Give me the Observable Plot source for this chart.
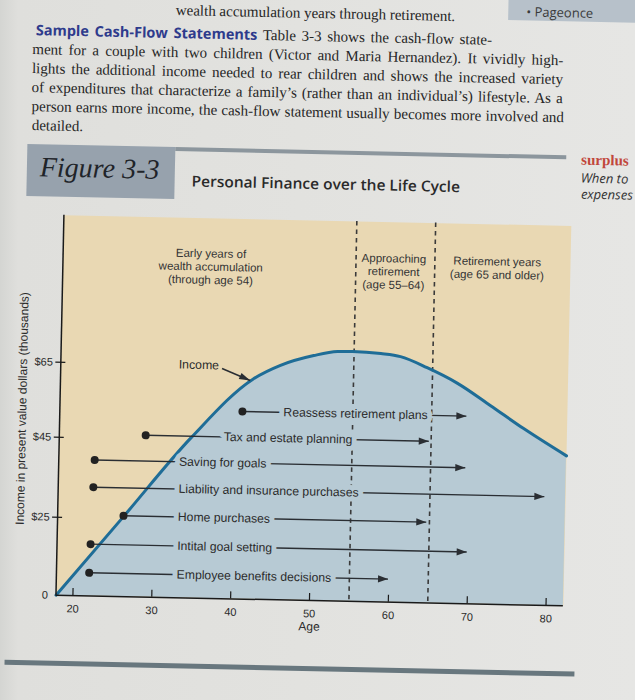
<!DOCTYPE html>
<html>
<head>
<meta charset="utf-8">
<script src="https://cdn.jsdelivr.net/npm/d3@7"></script>
<script src="https://cdn.jsdelivr.net/npm/@observablehq/plot@0.6"></script>
<style>
html, body { margin: 0; padding: 0; }
body {
  width: 635px; height: 700px; overflow: hidden; position: relative;
  background: linear-gradient(to right, #d4d5d2 0px, #dfdfdc 18px, #e2e2df 300px, #e6e6e4 635px);
}
#page { position: absolute; left: 0; top: 0; width: 635px; height: 700px;
  transform: rotate(1.2deg); transform-origin: 310px 405px; }
.abs { position: absolute; white-space: nowrap; }
.para { font-family: "Liberation Serif", serif; font-size: 15px; line-height: 19px; color: #262626; }
.lead { font-family: "Open Sans", sans-serif; font-weight: 700; font-size: 14.5px; color: #2e3b8c; }
.fig { font-family: "Liberation Serif", serif; font-style: italic; font-size: 28px; line-height: 28px; color: #1f2429; }
.title { font-family: "Open Sans", sans-serif; font-weight: 600; font-size: 15px; line-height: 20px; color: #2a2a2a; }
.surplus { font-family: "Liberation Serif", serif; font-weight: 700; font-size: 15px; line-height: 18px; color: #c1463b; }
.side { font-family: "Open Sans", sans-serif; font-style: italic; font-size: 13px; line-height: 16px; color: #333; }
#chart { position: absolute; left: 0; top: 200px; }
</style>
</head>
<body>
<div id="page">
  <div class="abs" style="left:500px;top:-10px;width:150px;height:26px;background:#b7c1ca"></div>
  <div class="abs side" style="left:518px;top:-1px;font-style:normal;color:#3a3a3a">&bull; Pageonce</div>

  <div class="abs para" style="right:188px;top:4px">wealth accumulation years through retirement.</div>
  <div class="abs para" data-w="456" style="left:28px;top:25.5px"><span class="lead">Sample Cash-Flow Statements</span> Table 3-3 shows the cash-flow state-</div>
  <div class="abs para" data-w="531" style="left:25px;top:45.5px">ment for a couple with two children (Victor and Maria Hernandez). It vividly high-</div>
  <div class="abs para" data-w="531" style="left:25px;top:64.5px">lights the additional income needed to rear children and shows the increased variety</div>
  <div class="abs para" data-w="531" style="left:25px;top:83.5px">of expenditures that characterize a family’s (rather than an individual’s) lifestyle. As a</div>
  <div class="abs para" data-w="532" style="left:25.5px;top:102.5px">person earns more income, the cash-flow statement usually becomes more involved and</div>
  <div class="abs para" style="left:26px;top:121.5px">detailed.</div>

  <div class="abs" style="left:22px;top:149.5px;width:148px;height:52px;background:#97a2ad"></div>
  <div class="abs fig" style="left:35px;top:159px">Figure 3-3</div>
  <div class="abs" style="left:170px;top:150px;width:391px;height:4px;background:#8c969d"></div>
  <div class="abs title" data-w="268" data-mode="scale" style="left:187px;top:172.5px">Personal Finance over the Life Cycle</div>

  <div class="abs surplus" style="left:576px;top:145px">surplus</div>
  <div class="abs side" style="left:576px;top:164px">When to</div>
  <div class="abs side" style="left:576.5px;top:180px">expenses</div>

  <div id="chart"></div>

  <div class="abs" style="left:10px;top:666px;width:570px;height:5px;background:#68777e"></div>
</div>

<script>
// ---- Data ----
// Income curve (age in years, income in thousands of present-value dollars)
const curveAges   = [17.85, 26.2, 34.6, 42.2, 45.7, 49.9, 52.9, 54.8, 58.4, 60.9, 64.3, 68.2, 72.4, 76.7, 82.2];
const curveIncome = [0, 25.5, 45.7, 61.5, 65.4, 68.2, 69.4, 69.5, 69.1, 68.4, 65.6, 61.6, 55.9, 49.9, 43.0];

// Planning activities: level on the income axis, start age, end age, age where label starts
const taskNames    = ["Reassess retirement plans", "Tax and estate planning", "Saving for goals",
                      "Liability and insurance purchases", "Home purchases", "Intital goal setting",
                      "Employee benefits decisions"];
const taskLevel    = [52.9, 46.0, 39.5, 32.7, 25.7, 16.6, 7.4];
const taskStart    = [41.0, 28.8, 22.4, 22.3, 26.2, 22.1, 22.0];
const taskEnd      = [69.4, 64.7, 69.4, 79.5, 64.6, 69.8, 59.9];
const taskLabelAge = [46.2, 38.7, 33.1, 33.1, 33.1, 33.1, 33.1];

// Life-cycle stages
const stageNames = ["Early years of\nwealth accumulation\n(through age 54)",
                    "Approaching\nretirement\n(age 55–64)",
                    "Retirement years\n(age 65 and older)"];
const stageAge   = [36.6, 59.8, 72.9];
const stageLevel = [91.4, 91.1, 92.6];
const stageBoundaries = [55, 65];

// "Income" callout
const incomeLabel = {age: 32.8, level: 65.05};
const incomeArrow = {age1: 38.3, level1: 64.25, age2: 41.9, level2: 61.2};

// Axes
const xTicks = [20, 30, 40, 50, 60, 70, 80];
const yTicks = [0, 25, 45, 65];
const yTickLabels = ["0", "$25", "$45", "$65"];
const xLabel = "Age";
const yLabel = "Income in present value dollars (thousands)";
const ageDomain = [17.85, 82.2];

// The printed income axis is not uniform: its ticks 0, $25, $45, $65 are almost evenly spaced.
// This piecewise-linear scale maps income to a uniform axis position used by Plot's linear y scale.
const incomeBreaks = [0, 25, 45, 65, 104.2];
const axisSteps    = [0, 78, 158, 233, 380];
const lv = d3.scaleLinear().domain(incomeBreaks).range(axisSteps);

// ---- Build ----
const TAN = "#e9d8b3", BLUE = "#b7cad4", CURVE = "#1f6d97", INK = "#2a2e33";
const curve = curveAges.map((a, i) => ({age: a, income: curveIncome[i]}));
const tasks = taskNames.map((name, i) => ({name, level: taskLevel[i], start: taskStart[i], end: taskEnd[i], labelAt: taskLabelAge[i]}));
const stages = stageNames.map((name, i) => ({name, age: stageAge[i], level: stageLevel[i]}));
const yTickPos = yTicks.map(lv);

function head(deg, len = 10, half = 3.6) {
  const a = deg * Math.PI / 180, c = Math.cos(a), s = Math.sin(a);
  const p = [[0, 0], [-len, -half], [-len, half]].map(([x, y]) => [x * c - y * s, x * s + y * c]);
  return {draw(ctx) { ctx.moveTo(p[0][0], p[0][1]); ctx.lineTo(p[1][0], p[1][1]); ctx.lineTo(p[2][0], p[2][1]); ctx.closePath(); }};
}

const chart = Plot.plot({
  width: 600, height: 450,
  marginLeft: 59.5, marginRight: 33, marginTop: 20, marginBottom: 50,
  x: {domain: ageDomain, label: null},
  y: {domain: [axisSteps[0], axisSteps[axisSteps.length - 1]], label: null},
  style: {fontFamily: '"Liberation Sans", Arial, sans-serif', fontSize: "11px", background: "transparent", color: "#2b2b2b", overflow: "visible"},
  marks: [
    Plot.frame({fill: TAN, stroke: null}),
    Plot.areaY(curve, {x: "age", y: d => lv(d.income), fill: BLUE, curve: "monotone-x"}),
    Plot.ruleX(stageBoundaries, {stroke: "#3a3a3a", strokeWidth: 1.6, strokeDasharray: "4.5,4"}),
    Plot.line(curve, {x: "age", y: d => lv(d.income), stroke: CURVE, strokeWidth: 3, curve: "monotone-x"}),
    Plot.link(tasks, {x1: "start", x2: "end", y1: d => lv(d.level), y2: d => lv(d.level), stroke: INK, strokeWidth: 1.4}),
    Plot.dot(tasks, {x: "start", y: d => lv(d.level), r: 4, fill: "#222", stroke: null}),
    Plot.dot(tasks, {x: "end", y: d => lv(d.level), symbol: head(0), fill: INK, stroke: "none"}),
    Plot.text(tasks, {x: "labelAt", y: d => lv(d.level), text: "name", textAnchor: "start", fill: "#2b2b2b", stroke: BLUE, strokeWidth: 10, fontSize: 12.2}),
    Plot.text(stages, {x: "age", y: d => lv(d.level), text: "name", textAnchor: "middle", lineHeight: 1.15, fill: "#333", fontSize: 11.5}),
    Plot.text([incomeLabel], {x: "age", y: d => lv(d.level), text: () => "Income", textAnchor: "start", fill: "#2b2b2b", fontSize: 12.3}),
    Plot.link([incomeArrow], {x1: "age1", y1: d => lv(d.level1), x2: "age2", y2: d => lv(d.level2), stroke: INK, strokeWidth: 1.5}),
    Plot.dot([incomeArrow], {x: "age2", y: d => lv(d.level2), symbol: head(23, 11, 3.4), fill: INK, stroke: "none"}),
    Plot.ruleY([lv(0)], {stroke: "#1a1a1a", strokeWidth: 1.5}),
    Plot.ruleX([ageDomain[0]], {stroke: "#1a1a1a", strokeWidth: 1.5}),
    Plot.axisX({ticks: xTicks, tickSize: 7, dy: -7, tickFormat: () => "", label: null, stroke: "#1a1a1a", strokeWidth: 1.2}),
    Plot.axisX({ticks: xTicks, tickSize: 0, tickPadding: 9, label: null, fill: "#2b2b2b", fontSize: 11}),
    Plot.axisY({ticks: yTickPos.slice(1), tickSize: 10, dx: 5, tickFormat: () => "", label: null, stroke: "#1a1a1a", strokeWidth: 1.2}),
    Plot.axisY({ticks: yTickPos, tickSize: 0, tickPadding: 8, label: null, fill: "#2b2b2b", fontSize: 11,
                tickFormat: d => yTickLabels[yTickPos.findIndex(t => Math.abs(t - d) < 1e-6)]}),
    Plot.text([xLabel], {frameAnchor: "bottom", dy: 30, fill: "#2b2b2b", fontSize: 12}),
    Plot.text([yLabel], {frameAnchor: "left", textAnchor: "middle", rotate: -90, dx: -37.5, dy: 4, fill: "#2b2b2b", fontSize: 12})
  ]
});
document.getElementById("chart").appendChild(chart);

// fit each paragraph line to its measured width
document.querySelectorAll("[data-w]").forEach(el => {
  const target = +el.dataset.w;
  el.style.display = "inline-block";
  const w = el.offsetWidth;
  if (el.dataset.mode !== "scale" && w < target) {
    const spaces = (el.textContent.match(/ /g) || []).length;
    el.style.wordSpacing = ((target - w) / spaces) + "px";
  } else {
    el.style.transformOrigin = "0 50%";
    el.style.transform = `scaleX(${target / w})`;
  }
});
</script>
</body>
</html>
